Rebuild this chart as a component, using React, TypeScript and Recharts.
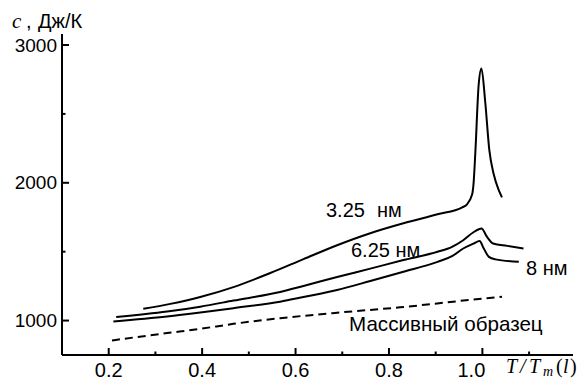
import React from 'react';
import { LineChart, Line, XAxis, YAxis } from 'recharts';

// T/Tm(l) values and heat capacity c (J/K) for each series
const x325 = [0.274, 0.332, 0.396, 0.467, 0.546, 0.617, 0.689, 0.76, 0.831, 0.904, 0.957, 0.966, 0.978, 0.981, 0.985, 0.992, 0.998, 1.006, 1.015, 1.024, 1.036, 1.042];
const c325 = [1085, 1121, 1171, 1243, 1345, 1446, 1547, 1634, 1706, 1771, 1822, 1840, 1915, 1990, 2225, 2710, 2830, 2590, 2233, 2065, 1939, 1894];

const x625 = [0.216, 0.325, 0.396, 0.467, 0.567, 0.617, 0.689, 0.76, 0.831, 0.904, 0.935, 0.959, 0.981, 0.998, 1.01, 1.023, 1.053, 1.088];
const c625 = [1025, 1065, 1101, 1145, 1207, 1251, 1316, 1377, 1439, 1499, 1535, 1583, 1641, 1668, 1607, 1559, 1542, 1523];

const x8 = [0.21, 0.325, 0.396, 0.467, 0.567, 0.617, 0.689, 0.76, 0.831, 0.904, 0.935, 0.959, 0.981, 0.994, 1.003, 1.014, 1.028, 1.078];
const c8 = [993, 1029, 1058, 1090, 1137, 1171, 1222, 1287, 1354, 1426, 1467, 1523, 1559, 1578, 1523, 1462, 1444, 1426];

const xBulk = [0.207, 0.325, 0.396, 0.467, 0.567, 0.7, 0.824, 0.974, 1.042];
const cBulk = [856, 909, 940, 976, 1017, 1060, 1096, 1150, 1172];

const xTicks = [0.2, 0.3, 0.4, 0.5, 0.6, 0.7, 0.8, 0.9, 1.0, 1.1];
const xMajor = [0.2, 0.4, 0.6, 0.8, 1.0];
const yTicks = [1000, 1500, 2000, 2500, 3000];
const yMajor = [1000, 2000, 3000];

const toRows = (xs: number[], ys: number[]) => xs.map((x, i) => ({ x, c: ys[i] }));

const SANS = '"Liberation Sans", Arial, sans-serif';
const SERIF = '"Liberation Serif", "Times New Roman", serif';

const XTick = (props: any) => {
  const { x, y, payload } = props;
  const v = payload.value;
  const major = xMajor.some((m) => Math.abs(m - v) < 1e-6);
  const label = v.toFixed(1);
  const dx = Math.abs(v - 1.0) < 1e-6 ? -11 : 0;
  return (
    <g>
      <line x1={x} y1={y} x2={x} y2={y - (major ? 7 : 3.5)} stroke="#000" strokeWidth={2} />
      {major && (
        <text x={x + dx} y={y + 22} textAnchor="middle" fontFamily={SANS} fontSize={20} fill="#000">
          {label}
        </text>
      )}
    </g>
  );
};

const YTick = (props: any) => {
  const { x, y, payload } = props;
  const v = payload.value;
  const major = yMajor.includes(v);
  return (
    <g>
      <line x1={x} y1={y} x2={x + (major ? 7 : 3.5)} y2={y} stroke="#000" strokeWidth={2} />
      {major && (
        <text x={x - 5} y={y + 6.5} textAnchor="end" fontFamily={SANS} fontSize={19} fill="#000">
          {String(v)}
        </text>
      )}
    </g>
  );
};

export default function App() {
  return (
    <div style={{ position: 'absolute', left: 0, top: 0, width: 582, height: 380, background: '#fff' }}>
      <LineChart width={582} height={380} margin={{ top: 34, right: 9, bottom: 0, left: 0 }}>
        <XAxis
          type="number"
          dataKey="x"
          domain={[0.1, 1.194]}
          ticks={xTicks}
          interval={0}
          height={25}
          tickSize={0}
          tickMargin={0}
          tickLine={false}
          tick={<XTick />}
          axisLine={{ stroke: '#000', strokeWidth: 2 }}
          allowDataOverflow
        />
        <YAxis
          type="number"
          domain={[750, 3080]}
          ticks={yTicks}
          interval={0}
          width={62}
          tickSize={0}
          tickMargin={0}
          tickLine={false}
          tick={<YTick />}
          axisLine={{ stroke: '#000', strokeWidth: 2 }}
          allowDataOverflow
        />
        <Line data={toRows(x325, c325)} dataKey="c" type="monotone" stroke="#000" strokeWidth={2} dot={false} isAnimationActive={false} />
        <Line data={toRows(x625, c625)} dataKey="c" type="monotone" stroke="#000" strokeWidth={2} dot={false} isAnimationActive={false} />
        <Line data={toRows(x8, c8)} dataKey="c" type="monotone" stroke="#000" strokeWidth={2} dot={false} isAnimationActive={false} />
        <Line data={toRows(xBulk, cBulk)} dataKey="c" type="monotone" stroke="#000" strokeWidth={2} strokeDasharray="8 5" dot={false} isAnimationActive={false} />
        <text x={12} y={28} fontFamily={SERIF} fontStyle="italic" fontSize={21} fill="#000">c</text>
        <text x={26} y={28} fontFamily={SANS} fontSize={20} fill="#000">,</text>
        <text x={38} y={28} fontFamily={SANS} fontSize={20} fill="#000">Дж/К</text>
        <text y={373} fontFamily={SERIF} fontStyle="italic" fontSize={20} fill="#000">
          <tspan x={506}>T</tspan>
          <tspan x={520}>/</tspan>
          <tspan x={529}>T</tspan>
          <tspan x={543} dy={3} fontSize={14}>m</tspan>
          <tspan x={556} dy={-3} fontStyle="normal">(</tspan>
          <tspan x={563}>l</tspan>
          <tspan x={570} fontStyle="normal">)</tspan>
        </text>
        <text x={326} y={217} fontFamily={SANS} fontSize={20} fill="#000">3.25</text>
        <text x={377} y={217} fontFamily={SANS} fontSize={20} fill="#000">нм</text>
        <text x={351} y={257} fontFamily={SANS} fontSize={20} fill="#000">6.25 нм</text>
        <text x={526} y={275} fontFamily={SANS} fontSize={20} fill="#000">8 нм</text>
        <text x={349} y={331} fontFamily={SANS} fontSize={20.6} fill="#000">Массивный образец</text>
      </LineChart>
    </div>
  );
}
